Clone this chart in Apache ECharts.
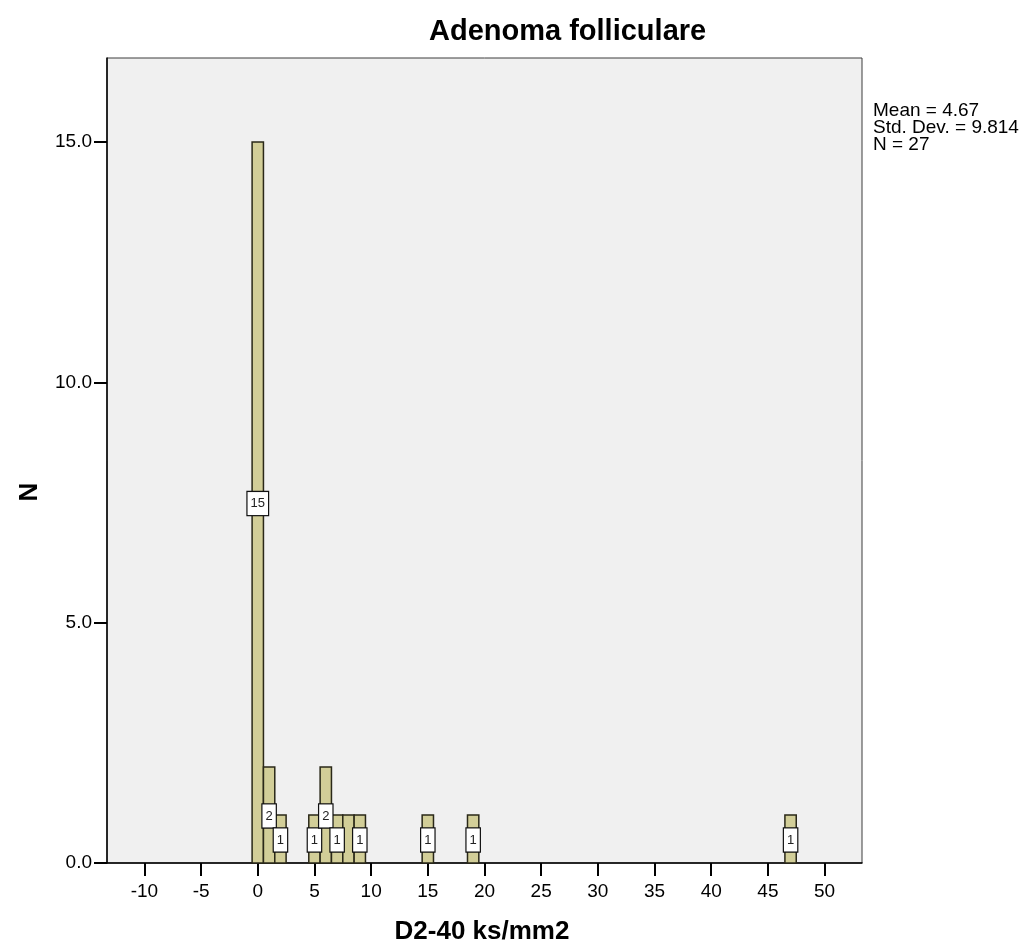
<!DOCTYPE html>
<html>
<head>
<meta charset="utf-8">
<script src="https://cdn.jsdelivr.net/npm/echarts@6/dist/echarts.min.js"></script>
<style>
html,body{margin:0;padding:0;background:#fff;}
#chart{width:1034px;height:948px;}
</style>
</head>
<body>
<div id="chart"></div>
<script>
// Histogram bins (bin centres, width 1) and counts
var binCenters = [0, 1, 2, 5, 6, 7, 8, 9, 15, 19, 47];
var counts     = [15, 2, 1, 1, 2, 1, 1, 1, 1, 1, 1];
var barLabels  = ['15', '2', '1', '1', '2', '1', '', '1', '1', '1', '1'];
var binWidth = 1;
var xTicks = [-10, -5, 0, 5, 10, 15, 20, 25, 30, 35, 40, 45, 50];
var yTicks = [0, 5, 10, 15];
var titleText = 'Adenoma folliculare';
var xName = 'D2-40 ks/mm2';
var yName = 'N';
var statsLines = ['Mean = 4.67', 'Std. Dev. = 9.814', 'N = 27'];

var FONT = 'Arial, "Liberation Sans", sans-serif';
var chart = echarts.init(document.getElementById('chart'), null, {renderer: 'canvas'});

var barData = binCenters.map(function (c, i) { return [c, counts[i]]; });

chart.setOption({
  animation: false,
  backgroundColor: '#ffffff',
  title: {
    text: titleText,
    left: 424, top: 12,
    textStyle: {fontFamily: FONT, fontSize: 29, fontWeight: 'bold', color: '#000'}
  },
  graphic: [{
    type: 'text',
    left: 873, top: 101,
    style: {
      text: statsLines.join('\n'),
      font: '19px ' + FONT,
      lineHeight: 17,
      fill: '#000'
    }
  }, {
    type: 'text',
    x: 30, y: 492,
    rotation: Math.PI / 2,
    style: {
      text: yName,
      font: 'bold 26px ' + FONT,
      fill: '#000',
      align: 'center', verticalAlign: 'middle'
    }
  }],
  grid: {
    left: 107, right: 172, top: 58, bottom: 85,
    outerBoundsMode: 'none',
    containLabel: false,
    show: true, backgroundColor: '#F0F0F0', borderColor: '#3c3c3c', borderWidth: 1
  },
  xAxis: {
    type: 'value',
    min: -13.3, max: 53.3,
    name: xName, nameLocation: 'middle', nameGap: 56,
    nameTextStyle: {fontFamily: FONT, fontSize: 26, fontWeight: 'bold', color: '#000', padding: [0, 0, 0, -5]},
    axisLine: {show: true, onZero: false, lineStyle: {color: '#000', width: 1.5}},
    axisTick: {show: true, customValues: xTicks, length: 13, inside: false, lineStyle: {color: '#000', width: 2}},
    axisLabel: {customValues: xTicks, fontFamily: FONT, fontSize: 19, color: '#000', margin: 19},
    splitLine: {show: false}
  },
  yAxis: {
    type: 'value',
    min: 0, max: 16.75,
    axisLine: {show: true, onZero: false, lineStyle: {color: '#000', width: 1.5}},
    axisTick: {show: true, customValues: yTicks, length: 13, lineStyle: {color: '#000', width: 2}},
    axisLabel: {
      customValues: yTicks, fontFamily: FONT, fontSize: 19, color: '#000', margin: 15,
      formatter: function (v) { return v.toFixed(1); }
    },
    splitLine: {show: false}
  },
  series: [{
    type: 'custom',
    data: barData,
    renderItem: function (params, api) {
      var c = api.value(0), n = api.value(1);
      var p0 = api.coord([c - binWidth / 2, n]);
      var p1 = api.coord([c + binWidth / 2, 0]);
      return {
        type: 'rect',
        shape: {x: p0[0], y: p0[1], width: p1[0] - p0[0], height: p1[1] - p0[1]},
        style: {fill: '#D2CE98', stroke: '#2a2818', lineWidth: 1.5}
      };
    }
  }, {
    type: 'custom',
    data: barData,
    z: 5,
    renderItem: function (params, api) {
      var c = api.value(0), n = api.value(1);
      var lbl = barLabels[params.dataIndex];
      if (!lbl) return null;
      var p = api.coord([c, n / 2]);
      return {
        type: 'text',
        x: p[0], y: p[1] + 1,
        style: {
          text: lbl,
          font: '13px ' + FONT,
          fill: '#222',
          align: 'center', verticalAlign: 'middle',
          backgroundColor: '#ffffff',
          borderColor: '#111', borderWidth: 1.2,
          padding: [5, 3, 5, 3]
        }
      };
    }
  }]
});
</script>
</body>
</html>
